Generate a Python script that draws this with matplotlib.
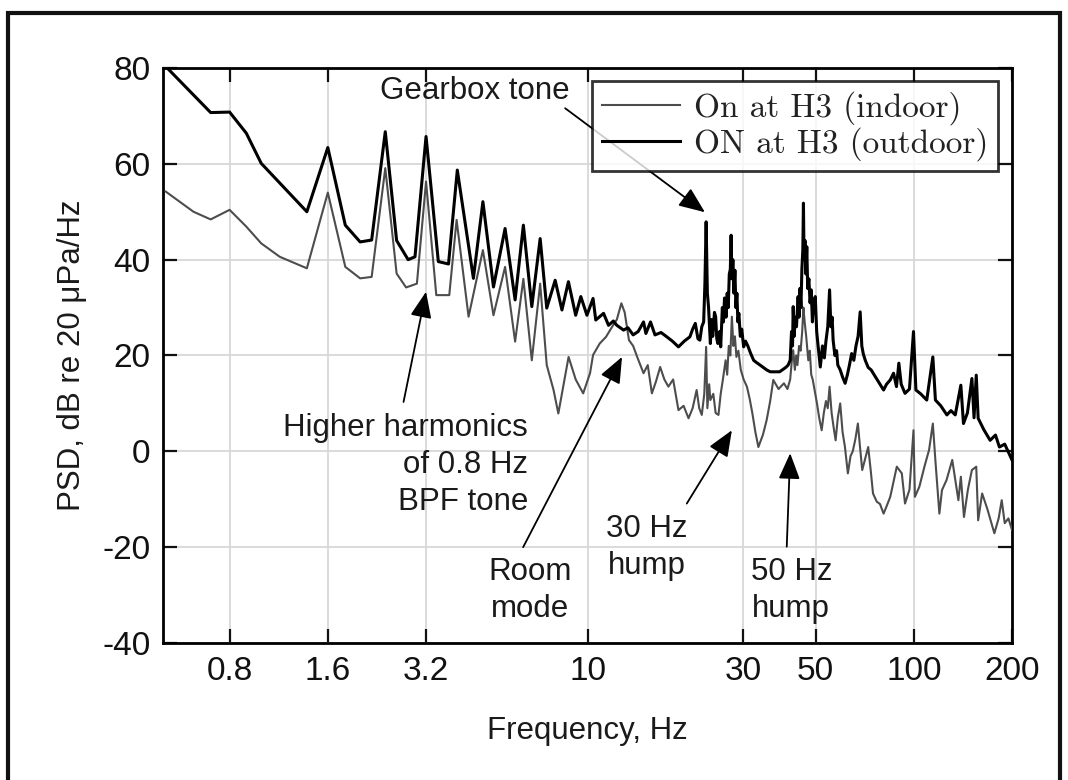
import matplotlib
matplotlib.use("Agg")
import matplotlib.pyplot as plt
from matplotlib.patches import Rectangle
from matplotlib.ticker import FixedLocator, NullLocator

# ---------------- data ----------------
freq_out = [0.51, 0.70, 0.80, 0.90, 1.00, 1.38, 1.60, 1.81, 2.01, 2.18,
            2.40, 2.60, 2.82, 2.96, 3.20, 3.49, 3.75, 3.99, 4.47, 4.78,
            5.15, 5.59, 6.00, 6.36, 6.75, 7.16, 7.50, 7.96, 8.35, 8.74,
            9.20, 9.54, 9.96, 10.4, 10.6, 11.2, 11.6, 12.0, 12.3, 12.9,
            13.3, 13.8, 14.3, 14.85, 15.1, 15.6, 16.1, 16.8, 17.5, 18.2,
            19.0, 19.8, 20.6, 21.0, 21.4, 21.8, 22.1, 22.4, 22.7, 22.9,
            23.1, 23.3, 23.5, 23.8, 24.0, 24.2, 24.5, 24.7, 24.9, 25.1,
            25.4, 25.6, 25.9, 26.1, 26.3, 26.6, 26.8, 27.0, 27.2, 27.4,
            27.55, 27.7, 27.9, 28.1, 28.3, 28.5, 28.7, 28.9, 29.1, 29.4,
            29.7, 30.1, 30.5, 31.0, 31.6, 32.3, 33.0, 33.8, 35.4, 36.3,
            38.8, 40.5, 41.2, 41.8, 42.2, 42.5, 42.7, 43.0, 43.3, 43.7,
            44.2, 44.5, 44.8, 45.1, 45.4, 45.7, 45.9, 46.1, 46.4, 46.7,
            47.0, 47.3, 47.7, 48.1, 48.5, 48.9, 49.3, 49.9, 50.4, 50.9,
            51.7, 52.5, 53.2, 53.8, 54.5, 55.2, 55.7, 56.2, 56.6, 57.3,
            58.0, 58.5, 59.5, 60.5, 61.6, 62.6, 63.5, 64.5, 65.5, 66.5,
            67.5, 68.5, 69.3, 70.0, 71.0, 72.5, 74.0, 76.2, 78.0, 80.8,
            82.5, 84.7, 86.7, 88.5, 90.0, 91.5, 94.0, 97.0, 99.8, 101.5,
            105.0, 109.6, 114.4, 116.5, 121.0, 126.3, 130.0, 134.0, 139.4, 142.0,
            146.0, 150.7, 153.0, 155.4, 157.5, 164.0, 171.4, 178.0, 183.0, 190.0,
            196.0, 200.0]
psd_out = [80.3, 70.7, 70.8, 66.4, 60.1, 50.0, 63.4, 47.2, 43.7, 44.1,
           66.7, 44.0, 40.0, 40.6, 65.7, 39.6, 39.1, 58.7, 36.1, 52.1,
           34.3, 46.5, 31.6, 47.2, 30.2, 44.4, 29.9, 35.7, 29.5, 35.4,
           28.4, 32.3, 28.4, 31.9, 27.4, 28.8, 26.3, 27.2, 26.3, 25.3,
           25.8, 24.3, 25.0, 27.0, 24.6, 27.0, 24.3, 24.8, 23.9, 23.0,
           21.8, 23.0, 23.9, 25.5, 26.7, 23.5, 23.2, 26.0, 27.0, 35.0,
           47.9, 33.0, 30.0, 22.5, 27.5, 24.0, 29.0, 28.1, 23.5, 22.5,
           25.0, 21.8, 30.0, 27.0, 32.0, 28.0, 33.0, 30.0, 37.0, 38.0,
           45.1, 36.0, 40.0, 33.0, 37.8, 30.0, 33.0, 27.0, 28.8, 24.0,
           25.5, 21.8, 23.0, 22.0, 20.5, 19.0, 18.5, 18.0, 17.0, 16.6,
           16.6, 17.5, 18.0, 19.0, 25.0, 22.0, 30.2, 24.0, 28.0, 26.0,
           32.3, 28.0, 34.0, 30.0, 38.0, 42.0, 51.8, 40.0, 44.0, 37.0,
           42.7, 34.0, 36.0, 31.0, 33.7, 27.0, 31.0, 32.3, 25.0, 22.0,
           17.6, 22.0, 19.5, 23.0, 26.0, 33.7, 26.0, 28.0, 23.2, 20.0,
           21.0, 18.0, 17.0, 15.5, 14.2, 16.0, 18.0, 20.4, 19.0, 22.0,
           24.0, 29.1, 22.0, 20.4, 19.0, 17.5, 17.0, 15.6, 14.5, 12.8,
           14.0, 14.9, 16.3, 13.5, 18.4, 14.0, 12.1, 13.0, 25.0, 12.8,
           12.0, 10.7, 19.7, 10.7, 9.5, 7.6, 8.5, 7.6, 13.8, 5.8,
           8.0, 15.2, 7.0, 15.9, 6.9, 4.5, 2.3, 3.4, 0.9, 1.5,
           -0.5, -1.8]

freq_in = [0.51, 0.62, 0.70, 0.80, 0.90, 1.00, 1.14, 1.38, 1.60, 1.81,
           2.01, 2.18, 2.40, 2.60, 2.78, 3.00, 3.20, 3.44, 3.77, 3.97,
           4.32, 4.78, 5.15, 5.59, 6.00, 6.36, 6.75, 7.16, 7.50, 7.87,
           8.14, 8.45, 8.75, 9.20, 9.70, 10.18, 10.4, 10.9, 11.4, 11.9,
           12.3, 12.7, 13.0, 13.4, 13.8, 14.2, 14.85, 15.3, 15.75, 16.2,
           16.7, 17.2, 17.7, 18.3, 19.0, 19.7, 20.4, 21.0, 21.6, 22.0,
           22.4, 22.8, 23.1, 23.3, 23.6, 23.8, 24.3, 24.7, 25.2, 25.6,
           26.0, 26.5, 26.8, 27.1, 27.4, 27.7, 28.0, 28.3, 28.6, 29.0,
           29.5, 30.1, 30.8, 31.4, 32.0, 32.7, 33.4, 34.5, 35.4, 36.3,
           37.1, 38.5, 40.0, 41.0, 41.8, 42.3, 42.7, 43.2, 43.6, 44.0,
           44.5, 45.0, 45.5, 45.9, 46.3, 46.8, 47.5, 48.0, 48.5, 49.0,
           49.6, 50.5, 51.3, 52.2, 53.0, 53.8, 54.5, 55.2, 56.0, 56.8,
           57.6, 58.5, 59.5, 60.5, 61.5, 62.8, 64.0, 65.0, 66.2, 67.4,
           68.4, 69.5, 71.0, 72.5, 73.8, 75.0, 77.0, 78.8, 80.8, 82.5,
           84.7, 88.7, 91.9, 94.0, 97.0, 99.8, 100.8, 104.0, 108.0, 111.4,
           114.4, 116.5, 119.8, 122.0, 126.0, 131.2, 137.0, 139.4, 142.5, 146.5,
           150.7, 155.4, 157.5, 162.0, 168.0, 176.6, 182.0, 186.0, 190.0, 195.0,
           200.0]
psd_in = [54.2, 50.0, 48.4, 50.4, 46.9, 43.4, 40.6, 38.2, 54.0, 38.5,
          36.1, 36.4, 59.1, 37.1, 34.2, 35.0, 56.3, 32.6, 32.6, 48.3,
          28.1, 42.0, 28.4, 38.5, 22.9, 36.0, 19.0, 35.0, 18.0, 12.8,
          7.9, 14.0, 19.7, 15.0, 12.1, 16.3, 20.1, 22.5, 23.9, 26.0,
          27.5, 30.9, 29.0, 23.2, 22.0, 19.7, 16.3, 18.0, 12.1, 14.5,
          17.6, 15.0, 13.5, 15.0, 8.6, 9.5, 6.9, 9.0, 12.8, 9.0,
          7.6, 12.0, 21.8, 9.0, 14.0, 10.7, 12.0, 8.0, 7.6, 12.0,
          15.0, 19.0, 16.0, 22.0, 20.0, 28.1, 22.0, 24.0, 19.7, 21.0,
          17.0, 15.0, 13.5, 11.0, 8.0, 4.0, 0.9, 3.5, 6.5, 10.5,
          14.9, 13.0, 14.2, 13.0, 15.0, 19.0, 21.1, 17.0, 20.0, 18.0,
          22.0, 21.0, 25.0, 30.0, 27.0, 24.0, 19.0, 21.0, 16.0, 15.0,
          13.0, 10.0, 7.0, 4.4, 8.0, 10.5, 9.0, 13.5, 8.0, 5.0,
          2.3, 7.0, 10.0, 4.0, 1.0, -4.6, -1.0, 0.0, 2.5, 5.8,
          1.0, -3.9, -1.5, 0.9, -4.0, -8.8, -10.5, -11.0, -13.0, -11.5,
          -9.5, -3.2, -4.6, -10.9, -8.0, 4.4, -9.5, -7.4, -3.0, 0.3,
          5.8, -2.0, -13.0, -8.1, -6.0, -1.8, -10.2, -5.3, -13.7, -8.0,
          -3.9, -3.2, -14.4, -8.8, -12.0, -17.1, -14.0, -10.2, -15.0, -14.0,
          -16.4]

x_ticks = [0.8, 1.6, 3.2, 10, 30, 50, 100, 200]
x_tick_labels = ["0.8", "1.6", "3.2", "10", "30", "50", "100", "200"]
y_ticks = [-40, -20, 0, 20, 40, 60, 80]
legend_labels = ["On at H3 (indoor)", "ON at H3 (outdoor)"]

# ---------------- figure ----------------
plt.rcParams["font.family"] = ["Liberation Sans", "DejaVu Sans"]
plt.rcParams["axes.unicode_minus"] = False

fig = plt.figure(figsize=(10.68, 7.80), dpi=100)
ax = fig.add_axes([163 / 1068, 1 - 643 / 780, 849 / 1068, 575 / 780])

l_in, = ax.plot(freq_in, psd_in, color="#4d4d4d", lw=1.5, zorder=3)
l_out, = ax.plot(freq_out, psd_out, color="black", lw=2.2, zorder=4)

ax.set_xscale("log")
ax.set_xlim(0.5, 200)
ax.set_ylim(-40, 80)
ax.xaxis.set_major_locator(FixedLocator(x_ticks))
ax.xaxis.set_minor_locator(NullLocator())
ax.set_xticklabels(x_tick_labels)
ax.set_yticks(y_ticks)

ax.grid(True, color="#d8d8d8", lw=1.3, zorder=0)
ax.set_axisbelow(True)
ax.tick_params(direction="in", length=10, width=1.6, top=True, right=True,
               labelsize=24, pad=9, colors="#111111")
for s in ax.spines.values():
    s.set_linewidth(2.0)

ax.set_xlabel("Frequency, Hz", fontsize=22.5, labelpad=21, color="#1a1a1a")
ax.set_ylabel("PSD, dB re 20 μPa/Hz", fontsize=22.5, labelpad=11, color="#1a1a1a")

leg = ax.legend([l_in, l_out], legend_labels, loc="upper right",
                bbox_to_anchor=(0.9835, 0.977), borderaxespad=0,
                prop={"family": "cmr10", "size": 24}, frameon=True,
                fancybox=False, edgecolor="black", handlelength=2.35,
                handletextpad=0.4, borderpad=0.3, labelspacing=0.05)
leg.get_frame().set_linewidth(2.0)
leg.set_zorder(10)
for t in leg.get_texts():
    t.set_color("#222222")

akw = dict(arrowstyle="-|>,head_length=0.8,head_width=0.33", color="black",
           lw=1.3, shrinkA=0, shrinkB=0, mutation_scale=20)
tkw = dict(fontsize=22.5, color="#1a1a1a", zorder=6)

ax.text(2.31, 75.2, "Gearbox tone", ha="left", va="center", **tkw)
ax.annotate("", xy=(22.9, 49.9), xytext=(8.54, 71.6), arrowprops=akw, zorder=6)

ax.text(6.57, -2.9, "Higher harmonics\nof 0.8 Hz\nBPF tone", ha="right", va="center",
        multialignment="right", linespacing=1.3, **tkw)
ax.annotate("", xy=(3.2, 33.3), xytext=(2.73, 10.3), arrowprops=akw, zorder=6)

ax.text(6.67, -29.0, "Room\nmode", ha="center", va="center", linespacing=1.3, **tkw)
ax.annotate("", xy=(12.76, 19.7), xytext=(6.35, -20.0), arrowprops=akw, zorder=6)

ax.text(15.2, -20.0, "30 Hz\nhump", ha="center", va="center", linespacing=1.3, **tkw)
ax.annotate("", xy=(27.7, 4.4), xytext=(20.15, -10.9), arrowprops=akw, zorder=6)

ax.text(42.1, -29.0, "50 Hz\nhump", ha="center", va="center", linespacing=1.3, **tkw)
ax.annotate("", xy=(41.8, -0.4), xytext=(40.8, -19.9), arrowprops=akw, zorder=6)

# outer figure frame
fig.patches.append(Rectangle((0.0075, -0.1), 0.985, 1.0835, transform=fig.transFigure,
                             fill=False, edgecolor="#111111", lw=3.0))

fig.savefig("out.png", dpi=100)
